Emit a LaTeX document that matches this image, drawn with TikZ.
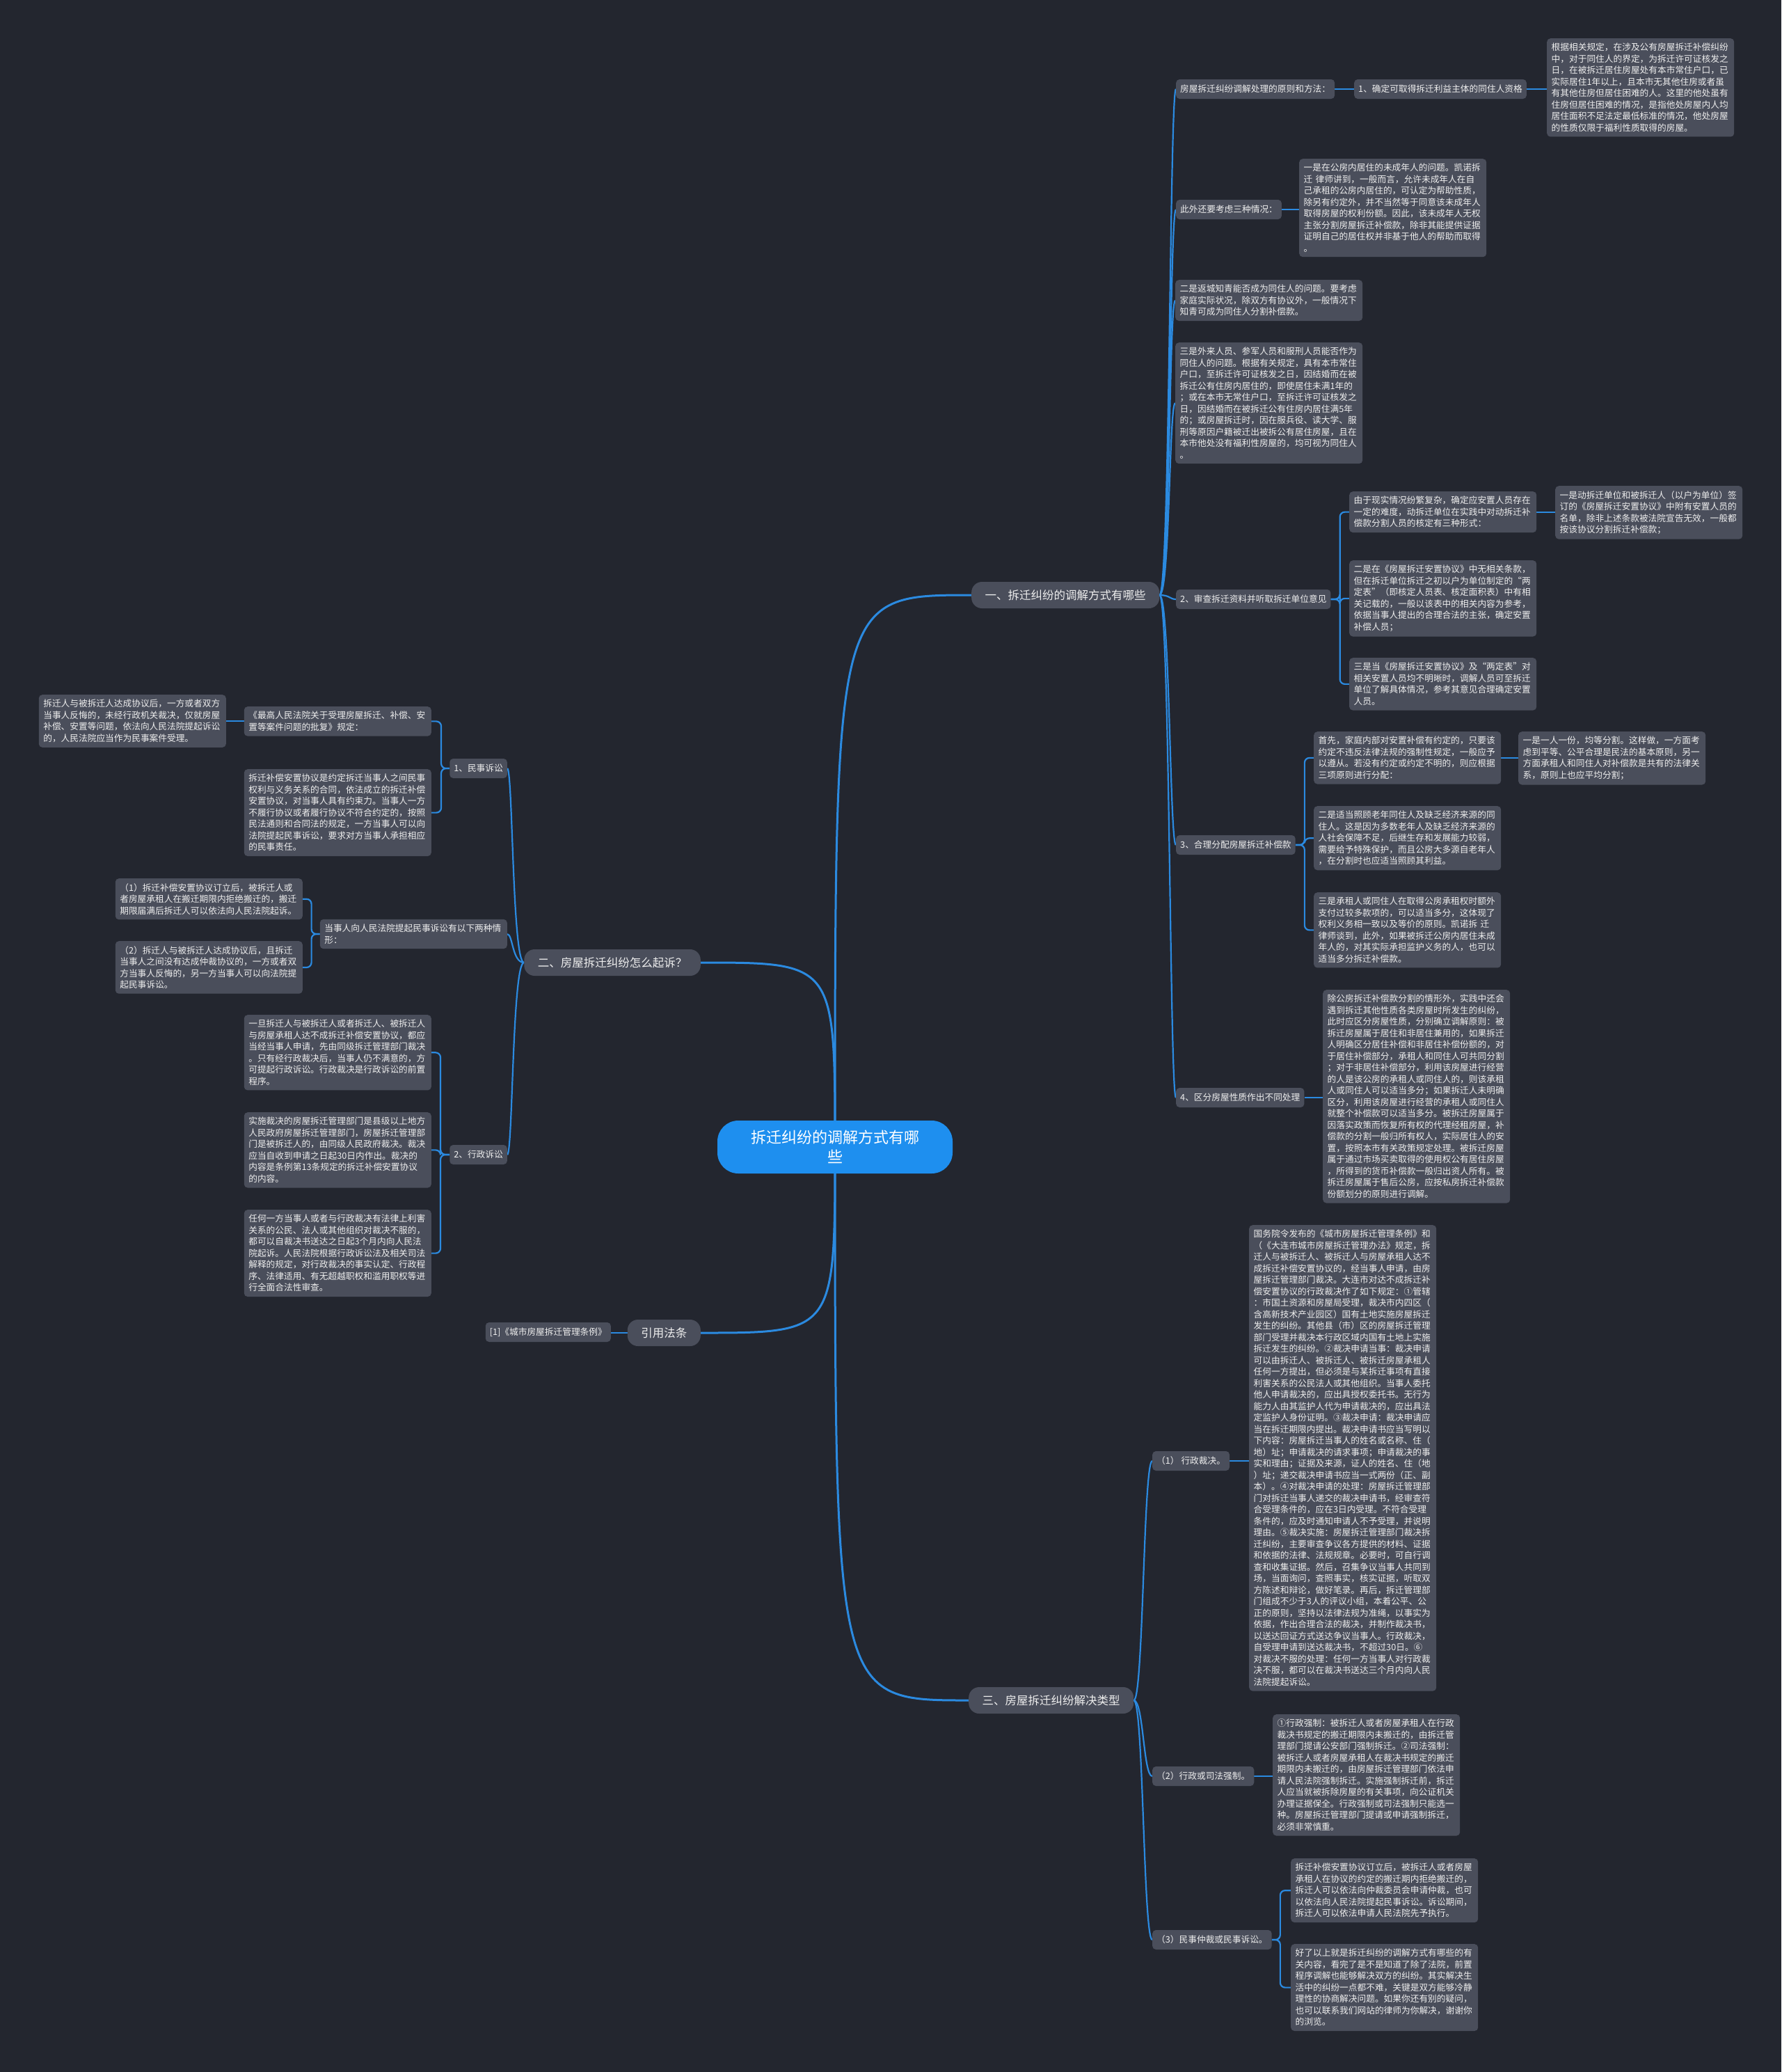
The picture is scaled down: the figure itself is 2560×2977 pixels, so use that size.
\documentclass[tikz,border=0pt]{standalone}
\usepackage{fontspec}
\setmainfont{Noto Sans CJK SC}
\usetikzlibrary{calc}
\definecolor{bgc}{HTML}{23262F}
\definecolor{boxc}{HTML}{4A4E5B}
\definecolor{linec}{HTML}{2B8AE0}
\definecolor{txtc}{HTML}{EEEEEE}
\definecolor{centc}{HTML}{1E8FEF}
\pgfdeclarelayer{back}\pgfdeclarelayer{lines}\pgfsetlayers{back,lines,main}
\tikzset{
 detail/.style={fill=boxc, text=txtc, rounded corners=5pt, align=left, text width=256pt, inner xsep=6.5pt, inner ysep=7pt, font=\fontsize{12.7}{16.5}\selectfont},
 lbl/.style={fill=boxc, text=txtc, rounded corners=5pt, inner xsep=6pt, inner ysep=6pt, minimum height=28pt, font=\fontsize{12.7}{16.5}\selectfont},
 mainbr/.style={fill=boxc, text=txtc, rounded corners=15pt, inner xsep=19.5pt, minimum height=38pt, font=\fontsize{16.5}{20}\selectfont},
 centre/.style={fill=centc, text=white, rounded corners=30pt, align=center, minimum width=338pt, minimum height=76pt, font=\fontsize{22}{28}\selectfont},
 link/.style={draw=linec, line width=2.2pt},
 mlink/.style={draw=linec, line width=3pt},
}
\begin{document}
\begin{tikzpicture}[x=1pt,y=-1pt]
\begin{pgfonlayer}{back}
\fill[bgc] (0,0) rectangle (2560,2977);
\end{pgfonlayer}
\useasboundingbox (0,0) rectangle (2560,2977);

% centre and main branches
\node[centre] (C) at (1200,1648) {拆迁纠纷的调解方式有哪\\些};
\node[mainbr, anchor=west] (B1) at (1396,855) {一、拆迁纠纷的调解方式有哪些};
\node[mainbr, anchor=east] (B2) at (1007,1383) {二、房屋拆迁纠纷怎么起诉？};
\node[mainbr, anchor=east] (YF) at (1007,1915) {引用法条};
\node[mainbr, anchor=west] (B3) at (1392,2443) {三、房屋拆迁纠纷解决类型};

% branch 1
\node[lbl, anchor=west] (A) at (1690,128) {房屋拆迁纠纷调解处理的原则和方法：};
\node[lbl, anchor=west] (A1) at (1946,128) {1、确定可取得拆迁利益主体的同住人资格};
\node[detail, anchor=north west] (A2) at (2223,55) {根据相关规定，在涉及公有房屋拆迁补偿纠纷\\中，对于同住人的界定，为拆迁许可证核发之\\日，在被拆迁居住房屋处有本市常住户口，已\\实际居住1年以上，且本市无其他住房或者虽\\有其他住房但居住困难的人。这里的他处虽有\\住房但居住困难的情况，是指他处房屋内人均\\居住面积不足法定最低标准的情况，他处房屋\\的性质仅限于福利性质取得的房屋。};
\node[lbl, anchor=west] (Bq) at (1690,301) {此外还要考虑三种情况：};
\node[detail, anchor=north west] (Bq1) at (1867,228) {一是在公房内居住的未成年人的问题。凯诺拆\\迁 律师讲到，一般而言，允许未成年人在自\\己承租的公房内居住的，可认定为帮助性质，\\除另有约定外，并不当然等于同意该未成年人\\取得房屋的权利份额。因此，该未成年人无权\\主张分割房屋拆迁补偿款，除非其能提供证据\\证明自己的居住权并非基于他人的帮助而取得\\。};
\node[detail, anchor=north west] (Cq) at (1689,402) {二是返城知青能否成为同住人的问题。要考虑\\家庭实际状况，除双方有协议外，一般情况下\\知青可成为同住人分割补偿款。};
\node[detail, anchor=north west] (Dq) at (1689,492) {三是外来人员、参军人员和服刑人员能否作为\\同住人的问题。根据有关规定，具有本市常住\\户口，至拆迁许可证核发之日，因结婚而在被\\拆迁公有住房内居住的，即使居住未满1年的\\；或在本市无常住户口，至拆迁许可证核发之\\日，因结婚而在被拆迁公有住房内居住满5年\\的；或房屋拆迁时，因在服兵役、读大学、服\\刑等原因户籍被迁出被拆公有居住房屋，且在\\本市他处没有福利性房屋的，均可视为同住人\\。};
\node[lbl, anchor=west] (E) at (1690,861) {2、审查拆迁资料并听取拆迁单位意见};
\node[detail, anchor=north west] (E1) at (1939,706) {由于现实情况纷繁复杂，确定应安置人员存在\\一定的难度，动拆迁单位在实践中对动拆迁补\\偿款分割人员的核定有三种形式：};
\node[detail, anchor=north west] (E1a) at (2235,698) {一是动拆迁单位和被拆迁人（以户为单位）签\\订的《房屋拆迁安置协议》中附有安置人员的\\名单，除非上述条款被法院宣告无效，一般都\\按该协议分割拆迁补偿款；};
\node[detail, anchor=north west] (E2) at (1939,805) {二是在《房屋拆迁安置协议》中无相关条款，\\但在拆迁单位拆迁之初以户为单位制定的“两\\定表”（即核定人员表、核定面积表）中有相\\关记载的，一般以该表中的相关内容为参考，\\依据当事人提出的合理合法的主张，确定安置\\补偿人员；};
\node[detail, anchor=north west] (E3) at (1939,945) {三是当《房屋拆迁安置协议》及“两定表”对\\相关安置人员均不明晰时，调解人员可至拆迁\\单位了解具体情况，参考其意见合理确定安置\\人员。};
\node[lbl, anchor=west] (F) at (1690,1214) {3、合理分配房屋拆迁补偿款};
\node[detail, anchor=north west] (F1) at (1888,1051) {首先，家庭内部对安置补偿有约定的，只要该\\约定不违反法律法规的强制性规定，一般应予\\以遵从。若没有约定或约定不明的，则应根据\\三项原则进行分配：};
\node[detail, anchor=north west] (F1a) at (2182,1051) {一是一人一份，均等分割。这样做，一方面考\\虑到平等、公平合理是民法的基本原则，另一\\方面承租人和同住人对补偿款是共有的法律关\\系，原则上也应平均分割；};
\node[detail, anchor=north west] (F2) at (1888,1158) {二是适当照顾老年同住人及缺乏经济来源的同\\住人。这是因为多数老年人及缺乏经济来源的\\人社会保障不足，后继生存和发展能力较弱，\\需要给予特殊保护，而且公房大多源自老年人\\，在分割时也应适当照顾其利益。};
\node[detail, anchor=north west] (F3) at (1888,1282) {三是承租人或同住人在取得公房承租权时额外\\支付过较多款项的，可以适当多分，这体现了\\权利义务相一致以及等价的原则。凯诺拆 迁\\律师谈到，此外，如果被拆迁公房内居住未成\\年人的，对其实际承担监护义务的人，也可以\\适当多分拆迁补偿款。};
\node[lbl, anchor=west] (G) at (1690,1577) {4、区分房屋性质作出不同处理};
\node[detail, anchor=north west] (G1) at (1901,1422) {除公房拆迁补偿款分割的情形外，实践中还会\\遇到拆迁其他性质各类房屋时所发生的纠纷，\\此时应区分房屋性质，分别确立调解原则：被\\拆迁房屋属于居住和非居住兼用的，如果拆迁\\人明确区分居住补偿和非居住补偿份额的，对\\于居住补偿部分，承租人和同住人可共同分割\\；对于非居住补偿部分，利用该房屋进行经营\\的人是该公房的承租人或同住人的，则该承租\\人或同住人可以适当多分；如果拆迁人未明确\\区分，利用该房屋进行经营的承租人或同住人\\就整个补偿款可以适当多分。被拆迁房屋属于\\因落实政策而恢复所有权的代理经租房屋，补\\偿款的分割一般归所有权人，实际居住人的安\\置，按照本市有关政策规定处理。被拆迁房屋\\属于通过市场买卖取得的使用权公有居住房屋\\，所得到的货币补偿款一般归出资人所有。被\\拆迁房屋属于售后公房，应按私房拆迁补偿款\\份额划分的原则进行调解。};

% branch 2
\node[lbl, anchor=east] (K) at (729,1104) {1、民事诉讼};
\node[detail, anchor=north east] (K1) at (620,1015) {《最高人民法院关于受理房屋拆迁、补偿、安\\置等案件问题的批复》规定：};
\node[detail, anchor=north east] (KK) at (325,998) {拆迁人与被拆迁人达成协议后，一方或者双方\\当事人反悔的，未经行政机关裁决，仅就房屋\\补偿、安置等问题，依法向人民法院提起诉讼\\的，人民法院应当作为民事案件受理。};
\node[detail, anchor=north east] (K2) at (620,1105) {拆迁补偿安置协议是约定拆迁当事人之间民事\\权利与义务关系的合同，依法成立的拆迁补偿\\安置协议，对当事人具有约束力。当事人一方\\不履行协议或者履行协议不符合约定的，按照\\民法通则和合同法的规定，一方当事人可以向\\法院提起民事诉讼，要求对方当事人承担相应\\的民事责任。};
\node[detail, anchor=east] (L) at (729,1342) {当事人向人民法院提起民事诉讼有以下两种情\\形：};
\node[detail, anchor=north east] (L1) at (435,1262) {（1）拆迁补偿安置协议订立后，被拆迁人或\\者房屋承租人在搬迁期限内拒绝搬迁的，搬迁\\期限届满后拆迁人可以依法向人民法院起诉。};
\node[detail, anchor=north east] (L2) at (435,1352) {（2）拆迁人与被拆迁人达成协议后，且拆迁\\当事人之间没有达成仲裁协议的，一方或者双\\方当事人反悔的，另一方当事人可以向法院提\\起民事诉讼。};
\node[lbl, anchor=east] (M) at (729,1659) {2、行政诉讼};
\node[detail, anchor=north east] (M1) at (620,1458) {一旦拆迁人与被拆迁人或者拆迁人、被拆迁人\\与房屋承租人达不成拆迁补偿安置协议，都应\\当经当事人申请，先由同级拆迁管理部门裁决\\。只有经行政裁决后，当事人仍不满意的，方\\可提起行政诉讼。行政裁决是行政诉讼的前置\\程序。};
\node[detail, anchor=north east] (M2) at (620,1598) {实施裁决的房屋拆迁管理部门是县级以上地方\\人民政府房屋拆迁管理部门，房屋拆迁管理部\\门是被拆迁人的，由同级人民政府裁决。裁决\\应当自收到申请之日起30日内作出。裁决的\\内容是条例第13条规定的拆迁补偿安置协议\\的内容。};
\node[detail, anchor=north east] (M3) at (620,1738) {任何一方当事人或者与行政裁决有法律上利害\\关系的公民、法人或其他组织对裁决不服的，\\都可以自裁决书送达之日起3个月内向人民法\\院起诉。人民法院根据行政诉讼法及相关司法\\解释的规定，对行政裁决的事实认定、行政程\\序、法律适用、有无超越职权和滥用职权等进\\行全面合法性审查。};

% citation
\node[lbl, anchor=east] (REF) at (878,1914) {[1]《城市房屋拆迁管理条例》};

% branch 3
\node[lbl, anchor=west] (H) at (1656,2099) {（1） 行政裁决。};
\node[detail, anchor=north west] (H1) at (1795,1760) {国务院令发布的《城市房屋拆迁管理条例》和\\（《大连市城市房屋拆迁管理办法》规定，拆\\迁人与被拆迁人、被拆迁人与房屋承租人达不\\成拆迁补偿安置协议的，经当事人申请，由房\\屋拆迁管理部门裁决。大连市对达不成拆迁补\\偿安置协议的行政裁决作了如下规定：①管辖\\：市国土资源和房屋局受理，裁决市内四区（\\含高新技术产业园区）国有土地实施房屋拆迁\\发生的纠纷。其他县（市）区的房屋拆迁管理\\部门受理并裁决本行政区域内国有土地上实施\\拆迁发生的纠纷。②裁决申请当事：裁决申请\\可以由拆迁人、被拆迁人、被拆迁房屋承租人\\任何一方提出，但必须是与某拆迁事项有直接\\利害关系的公民法人或其他组织。当事人委托\\他人申请裁决的，应出具授权委托书。无行为\\能力人由其监护人代为申请裁决的，应出具法\\定监护人身份证明。③裁决申请：裁决申请应\\当在拆迁期限内提出。裁决申请书应当写明以\\下内容：房屋拆迁当事人的姓名或名称、住（\\地）址；申请裁决的请求事项；申请裁决的事\\实和理由；证据及来源，证人的姓名、住（地\\）址；递交裁决申请书应当一式两份（正、副\\本）。④对裁决申请的处理：房屋拆迁管理部\\门对拆迁当事人递交的裁决申请书，经审查符\\合受理条件的，应在3日内受理。不符合受理\\条件的，应及时通知申请人不予受理，并说明\\理由。⑤裁决实施：房屋拆迁管理部门裁决拆\\迁纠纷，主要审查争议各方提供的材料、证据\\和依据的法律、法规规章。必要时，可自行调\\查和收集证据。然后，召集争议当事人共同到\\场，当面询问，查照事实，核实证据，听取双\\方陈述和辩论，做好笔录。再后，拆迁管理部\\门组成不少于3人的评议小组，本着公平、公\\正的原则，坚持以法律法规为准绳，以事实为\\依据，作出合理合法的裁决，并制作裁决书，\\以送达回证方式送达争议当事人。行政裁决，\\自受理申请到送达裁决书，不超过30日。⑥\\对裁决不服的处理：任何一方当事人对行政裁\\决不服，都可以在裁决书送达三个月内向人民\\法院提起诉讼。};
\node[lbl, anchor=west] (I) at (1656,2552) {（2）行政或司法强制。};
\node[detail, anchor=north west] (I1) at (1829,2463) {①行政强制：被拆迁人或者房屋承租人在行政\\裁决书规定的搬迁期限内未搬迁的，由拆迁管\\理部门提请公安部门强制拆迁。②司法强制：\\被拆迁人或者房屋承租人在裁决书规定的搬迁\\期限内未搬迁的，由房屋拆迁管理部门依法申\\请人民法院强制拆迁。实施强制拆迁前，拆迁\\人应当就被拆除房屋的有关事项，向公证机关\\办理证据保全。行政强制或司法强制只能选一\\种。房屋拆迁管理部门提请或申请强制拆迁，\\必须非常慎重。};
\node[lbl, anchor=west] (J) at (1656,2787) {（3）民事仲裁或民事诉讼。};
\node[detail, anchor=north west] (J1) at (1855,2670) {拆迁补偿安置协议订立后，被拆迁人或者房屋\\承租人在协议的约定的搬迁期内拒绝搬迁的，\\拆迁人可以依法向仲裁委员会申请仲裁，也可\\以依法向人民法院提起民事诉讼。诉讼期间，\\拆迁人可以依法申请人民法院先予执行。};
\node[detail, anchor=north west] (J2) at (1855,2793) {好了以上就是拆迁纠纷的调解方式有哪些的有\\关内容，看完了是不是知道了除了法院，前置\\程序调解也能够解决双方的纠纷。其实解决生\\活中的纠纷一点都不难，关键是双方能够冷静\\理性的协商解决问题。如果你还有别的疑问，\\也可以联系我们网站的律师为你解决，谢谢你\\的浏览。};

\begin{pgfonlayer}{lines}
% centre links
\draw[mlink] (C.center) .. controls (C.center |- B1.west) .. (B1.west);
\draw[mlink] (C.center) .. controls (C.center |- B2.east) .. (B2.east);
\draw[mlink] (C.center) .. controls (C.center |- YF.east) .. (YF.east);
\draw[mlink] (C.center) .. controls (C.center |- B3.west) .. (B3.west);
% branch 1
\foreach \n in {A,Bq,Cq,Dq,E,F,G}
  \draw[link] (B1.east) .. controls ($(B1.east)+(15,0)$) and ($(\n.west)+(-9,0)$) .. (\n.west);
\draw[link] (A.east) -- (A.east -| A1.west);
\draw[link] (A1.east) -- (A1.east -| A2.west);
\draw[link] (Bq.east) -- (Bq.east -| Bq1.west);
\foreach \n in {E1,E2,E3}
  \draw[link, rounded corners=7pt] (E.east) -- ++(13,0) |- (\n.west);
\draw[link] (E1.east) -- (E1.east -| E1a.west);
\foreach \n in {F1,F2,F3}
  \draw[link, rounded corners=7pt] (F.east) -- ++(13,0) |- (\n.west);
\draw[link] (F1.east) -- (F1.east -| F1a.west);
\draw[link] (G.east) -- (G.east -| G1.west);
% branch 2
\foreach \n in {K,L,M}
  \draw[link] (B2.west) .. controls ($(B2.west)+(-17,0)$) and ($(\n.east)+(8,0)$) .. (\n.east);
\foreach \n in {K1,K2}
  \draw[link, rounded corners=7pt] (K.west) -- ++(-12,0) |- (\n.east);
\draw[link] (K1.west) -- (K1.west -| KK.east);
\foreach \n in {L1,L2}
  \draw[link, rounded corners=7pt] (L.west) -- ++(-12,0) |- (\n.east);
\foreach \n in {M1,M2,M3}
  \draw[link, rounded corners=7pt] (M.west) -- ++(-13,0) |- (\n.east);
% citation
\draw[link] (YF.west) -- (YF.west -| REF.east);
% branch 3
\foreach \n in {H,I,J}
  \draw[link] (B3.east) .. controls ($(B3.east)+(14,0)$) and ($(\n.west)+(-13,0)$) .. (\n.west);
\draw[link] (H.east) -- (H.east -| H1.west);
\draw[link] (I.east) -- (I.east -| I1.west);
\foreach \n in {J1,J2}
  \draw[link, rounded corners=7pt] (J.east) -- ++(12,0) |- (\n.west);
\end{pgfonlayer}
\end{tikzpicture}
\end{document}
